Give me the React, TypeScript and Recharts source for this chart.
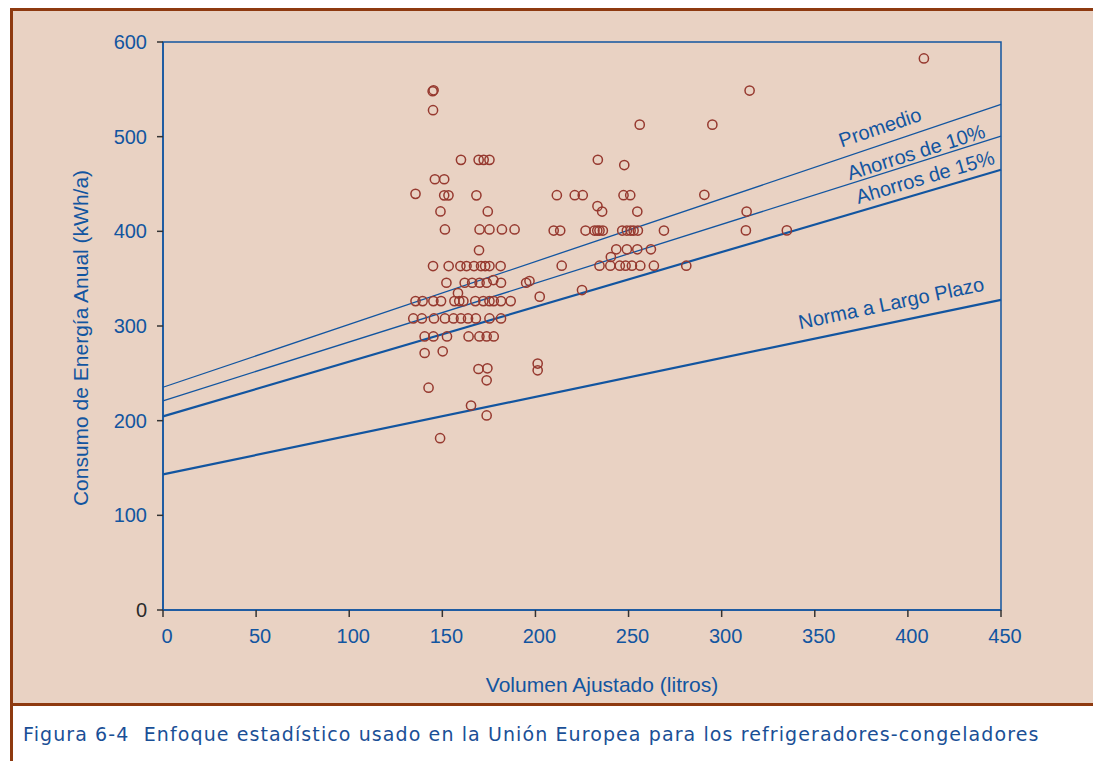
import {
  ComposedChart, Scatter, XAxis, YAxis, ReferenceLine, ReferenceArea, ReferenceDot,
} from 'recharts';

// volumen ajustado (litros), consumo (kWh/a)
const points: [number, number][] = [
  [144.8, 548], [145.3, 549], [145, 528],
  [160, 475.5], [169.5, 475.5], [172.2, 475.5], [175.3, 475.5],
  [146, 455], [151, 455],
  [135.6, 439.6], [151, 438], [153.3, 438], [168.3, 438],
  [149, 421], [174.4, 421],
  [151.4, 402], [170, 402], [175.3, 402], [182, 402], [188.8, 402],
  [169.7, 380],
  [145, 363.3], [153.4, 363.3], [159.7, 363.3], [163, 363.3], [167, 363.3],
  [170.8, 363.3], [173, 363.3], [175.3, 363.3], [181.3, 363.3],
  [152.2, 345.7], [162, 345.7], [166, 345.7], [170, 345.7], [173.8, 345.7],
  [181.5, 345.7], [195, 345.7], [177.4, 348.5],
  [158.4, 334.7], [202.3, 331],
  [135.6, 326.3], [139.4, 326.3], [145.2, 326.3], [149.3, 326.3], [156.5, 326.3],
  [159.1, 326.3], [161.3, 326.3], [167.7, 326.3], [172, 326.3], [175.3, 326.3],
  [177.6, 326.3], [181.5, 326.3], [186.7, 326.3],
  [134.4, 308], [139, 308], [145.5, 308], [151.4, 308], [156, 308],
  [160, 308], [163.8, 308], [168, 308], [175.3, 308], [181.5, 308],
  [140.5, 289], [145.2, 289], [152.5, 289], [164.1, 289], [169.9, 289],
  [173.8, 289], [177.6, 289],
  [140.5, 271.5], [150.2, 273.3],
  [169.4, 254.6], [174.2, 255.3], [173.8, 242.6],
  [201.2, 260.3], [201.2, 253.2],
  [142.6, 234.8], [165.4, 216], [173.8, 205.5], [148.8, 181.5],
  [233.5, 475.6], [247.7, 470],
  [211.5, 438.2], [221.1, 438.2], [225.4, 438.2], [247.3, 438.2], [250.9, 438.2],
  [290.7, 438.6],
  [233.3, 426.6], [235.8, 420.9], [254.7, 420.9], [313.4, 420.9],
  [209.8, 400.8], [213.3, 400.8], [226.9, 400.8], [231.7, 400.8], [233.2, 400.8],
  [234.4, 400.8], [236.2, 400.8], [246.6, 400.8], [249.1, 400.8], [251.1, 400.8],
  [252.7, 400.8], [255, 400.8], [269, 400.8], [313, 401], [335, 401],
  [243.4, 381], [249.1, 381], [254.7, 381], [262, 381],
  [240.5, 372.9],
  [214.1, 363.7], [234.4, 363.7], [240.2, 363.7], [245.3, 363.7], [248.4, 363.7],
  [251.8, 363.7], [256.3, 363.7], [263.6, 363.7], [281, 363.7],
  [196.8, 347.5], [225, 338],
  [408.6, 582.6], [315, 548.7], [295, 512.7], [256, 512.7],
];

const xTicks = [0, 50, 100, 150, 200, 250, 300, 350, 400, 450];
const yTicks = [0, 100, 200, 300, 400, 500, 600];

// rectas: consumo a 0 litros y a 450 litros
const lineNames = ['Promedio', 'Ahorros de 10%', 'Ahorros de 15%', 'Norma a Largo Plazo'];
const lineAt0 = [235.3, 221, 204.5, 143.2];
const lineAt450 = [534, 500.5, 465, 327.6];
// donde va cada rótulo (volumen, consumo)
const labelX = [385, 404.4, 409.2, 391];
const labelY = [510, 483.8, 457.4, 324.3];

const BLUE = '#1255a0';
const DOT = '#96392f';
const FONT = '"Liberation Sans", Arial, sans-serif';

const lineWidth = [1.3, 1.3, 2.2, 2.2];
const labelAngle = [-18.6, -17.5, -16.4, -11.8];

const data = points.map(([x, y]) => ({ x, y }));

const YTick = (p: any) => (
  <text x={p.x} y={p.y} dy={7} textAnchor="end" fontSize={20} fontFamily={FONT}
    fill={p.payload.value === 0 ? '#2b2b2b' : BLUE}>
    {p.payload.value}
  </text>
);

const Ring = (p: any) => (
  <circle cx={p.cx} cy={p.cy} r={4.6} fill="none" stroke={DOT} strokeWidth={1.5} />
);

export default function App() {
  return (
    <div style={{ position: 'absolute', left: 0, top: 0, width: 1093, height: 761, background: '#fff', overflow: 'hidden' }}>
      <div style={{
        position: 'absolute', left: 10, top: 8, width: 1100, height: 760,
        borderLeft: '3px solid #8e3a10', borderTop: '3px solid #8e3a10',
      }}>
        <div style={{ height: 692, background: '#e9d2c3', borderBottom: '3px solid #8e3a10' }} />
      </div>
      <div style={{
        position: 'absolute', left: 23, top: 723, fontFamily: '"DejaVu Sans", sans-serif',
        fontSize: 19, letterSpacing: 1.1, color: '#1a4f96', whiteSpace: 'pre',
      }}>
        {'Figura 6-4  Enfoque estadístico usado en la Unión Europea para los refrigeradores-congeladores'}
      </div>
      <div style={{ position: 'absolute', left: 0, top: 0 }}>
        <ComposedChart width={1093} height={761} data={data}
          margin={{ top: 42, right: 92, bottom: 91, left: 83 }}>
          <XAxis type="number" dataKey="x" domain={[0, 450]} ticks={xTicks} interval={0}
            axisLine={{ stroke: BLUE, strokeWidth: 1.5 }} tickLine={{ stroke: '#333', strokeWidth: 1.5 }}
            tickSize={7} tickMargin={12} height={60}
            tick={{ fill: BLUE, fontSize: 20, fontFamily: FONT, dx: 4 }}
            label={{
              content: (p: any) => (
                <text x={p.viewBox.x + p.viewBox.width / 2 + 20} y={p.viewBox.y + 74}
                  textAnchor="middle" dominantBaseline="central" fontSize={21} fontFamily={FONT} fill={BLUE}>
                  Volumen Ajustado (litros)
                </text>
              ),
            }} />
          <YAxis type="number" dataKey="y" domain={[0, 600]} ticks={yTicks} interval={0} width={80}
            axisLine={{ stroke: BLUE, strokeWidth: 1.5 }} tickLine={{ stroke: '#333', strokeWidth: 1.5 }}
            tickSize={6} tickMargin={10} tick={<YTick />}
            label={{
              content: (p: any) => {
                const cx = 80;
                const cy = p.viewBox.y + p.viewBox.height / 2 + 12;
                return (
                  <text x={cx} y={cy} transform={`rotate(-90 ${cx} ${cy})`} textAnchor="middle"
                    dominantBaseline="central" fontSize={21} fontFamily={FONT} fill={BLUE}>
                    Consumo de Energía Anual (kWh/a)
                  </text>
                );
              },
            }} />
          <ReferenceArea x1={0} x2={450} y1={0} y2={600} fill="none" stroke={BLUE} strokeWidth={1.5} />
          {lineNames.map((name, i) => (
            <ReferenceLine key={name}
              segment={[{ x: 0, y: lineAt0[i] }, { x: 450, y: lineAt450[i] }]}
              stroke={BLUE} strokeWidth={lineWidth[i]} />
          ))}
          {lineNames.map((name, i) => (
            <ReferenceDot key={'l' + name} x={labelX[i]} y={labelY[i]} r={1}
              shape={(p: any) => (
                <text x={p.cx} y={p.cy} transform={`rotate(${labelAngle[i]} ${p.cx} ${p.cy})`}
                  textAnchor="middle" dominantBaseline="central" fontSize={20} fontFamily={FONT} fill={BLUE}>
                  {name}
                </text>
              )} />
          ))}
          <Scatter dataKey="y" shape={<Ring />} isAnimationActive={false} />
        </ComposedChart>
      </div>
    </div>
  );
}
